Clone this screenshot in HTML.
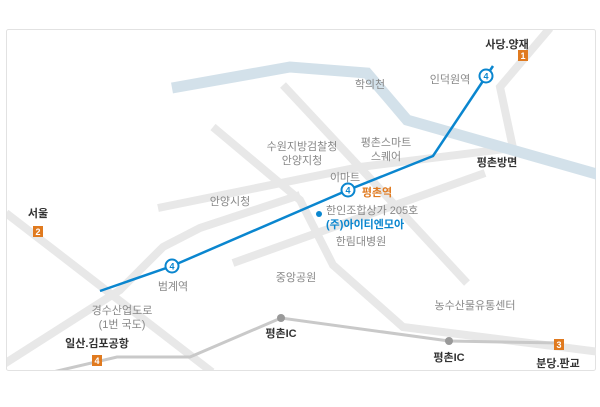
<!DOCTYPE html>
<html><head><meta charset="utf-8"><style>
html,body{margin:0;padding:0;background:#fff;}
svg{display:block;}
text{font-family:"Liberation Sans","Noto Sans CJK KR",sans-serif;font-size:11px;fill:#888;text-anchor:middle;}
.b{fill:#333;font-weight:bold;}
.n{fill:#fff;font-weight:bold;font-size:9px;}
</style></head><body>
<svg width="600" height="407" viewBox="0 0 600 407">
<defs><clipPath id="c"><rect x="7" y="30" width="589" height="340"/></clipPath></defs>
<rect x="6.5" y="29.5" width="589" height="341" rx="2" fill="#fff" stroke="#e2e2e2"/>
<g clip-path="url(#c)">
<g fill="none" stroke="#e8e8e8" stroke-width="8" stroke-linejoin="miter">
<polyline points="6,213 212,372"/>
<polyline points="4,364 120,290 163,247 200,228 300,195"/>
<polyline points="158,208 360,167 513,148"/>
<polyline points="213,127 300,200 333,265 403,327 600,352"/>
<polyline points="283,85 367,175 467,283"/>
<polyline points="233,263 485,173"/>
<polyline points="550,28 500,87 513,148"/>
</g>
<polyline points="172,88 290,67 367,73 407,120 600,175" fill="none" stroke="#d3e1ea" stroke-width="11"/>
<polyline points="40,375 117,357 190,357 281,318 449,341 560,343" fill="none" stroke="#c9c9c9" stroke-width="3"/>
</g>
<polyline points="100,291 172,266 348,190 433,156 493,66" fill="none" stroke="#0a86cf" stroke-width="2.5"/>
<g fill="#fff" stroke="#0a86cf" stroke-width="2">
<circle cx="172" cy="266" r="6.5"/><circle cx="348" cy="190" r="6.5"/><circle cx="486" cy="76" r="6.5"/>
</g>
<g style="font-size:9px;font-weight:bold"><text x="172" y="269.5" style="fill:#0a86cf;font-size:9px">4</text><text x="348" y="193.5" style="fill:#0a86cf;font-size:9px">4</text><text x="486" y="79.5" style="fill:#0a86cf;font-size:9px">4</text></g>
<circle cx="281" cy="318" r="4" fill="#999"/><circle cx="449" cy="341" r="4" fill="#999"/>
<circle cx="319" cy="214" r="3" fill="#0a86cf"/>
<g fill="#e07a1f">
<rect x="518" y="50" width="10" height="11"/><rect x="33" y="226" width="10" height="11"/><rect x="92" y="355" width="10" height="11"/><rect x="554" y="339" width="10" height="11"/>
</g>
<text class="n" x="523" y="59">1</text><text class="n" x="38" y="235">2</text><text class="n" x="97" y="364">4</text><text class="n" x="559" y="348">3</text>
<text class="b" x="507" y="48">사당.양재</text>
<text x="370" y="88">학의천</text>
<text x="450" y="83">인덕원역</text>
<text x="386" y="146">평촌스마트</text>
<text x="386" y="160">스퀘어</text>
<text x="302" y="150">수원지방검찰청</text>
<text x="302" y="164">안양지청</text>
<text class="b" x="497" y="166">평촌방면</text>
<text x="345" y="181">이마트</text>
<text x="377" y="196" style="fill:#e07a1f;font-weight:bold">평촌역</text>
<text x="230" y="205">안양시청</text>
<text class="b" x="38" y="217">서울</text>
<text x="326" y="214" style="text-anchor:start">한인조합상가 205호</text>
<text x="326" y="228" style="text-anchor:start;fill:#0a86cf;font-weight:bold">(주)아이티엔모아</text>
<text x="361" y="245">한림대병원</text>
<text x="296" y="281">중앙공원</text>
<text x="173" y="290">범계역</text>
<text x="122" y="314">경수산업도로</text>
<text x="122" y="328">(1번 국도)</text>
<text class="b" x="97" y="347">일산.김포공항</text>
<text class="b" x="281" y="337">평촌IC</text>
<text x="475" y="309">농수산물유통센터</text>
<text class="b" x="449" y="361">평촌IC</text>
<text class="b" x="558" y="367">분당.판교</text>
</svg>
</body></html>
